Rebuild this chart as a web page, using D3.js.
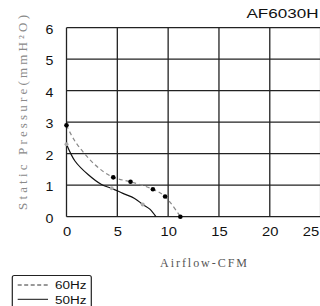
<!DOCTYPE html>
<html><head><meta charset="utf-8">
<script src="https://cdn.jsdelivr.net/npm/d3@7"></script>
<style>html,body{margin:0;padding:0;background:#fff;overflow:hidden}svg{display:block}</style>
</head><body>
<svg id="c" width="320" height="306"></svg>
<script>
const title = "AF6030H";
const xTicks = [0, 5, 10, 15, 20, 25];
const yTicks = [0, 1, 2, 3, 4, 5, 6];
// 60Hz (dashed) curve
const hz60X = [0, 0.85, 2.8, 4.6, 6.3, 8.5, 9.7, 11.2];
const hz60Y = [2.9, 2.39, 1.65, 1.25, 1.11, 0.87, 0.64, 0];
const hz60Dots = [0, 3, 4, 5, 6, 7];
// 50Hz (solid) curve
const hz50X = [0, 0.85, 2.15, 3.45, 4.45, 5.55, 6.7, 7.5, 8.2, 8.8];
const hz50Y = [2.3, 1.76, 1.33, 1.02, 0.9, 0.74, 0.58, 0.39, 0.24, 0];
const hz50Dots = [0, 4, 7];
const legendLabels = ["60Hz", "50Hz"];

const svg = d3.select("#c");
const x = d3.scaleLinear().domain([0, 25]).range([66.5, 320.6]);
const y = d3.scaleLinear().domain([0, 6]).range([216.7, 27.7]);

// grid
const g = svg.append("g");
g.selectAll("line.v").data(xTicks).join("line")
  .attr("x1", d => x(d)).attr("x2", d => x(d)).attr("y1", y(0)).attr("y2", y(6))
  .attr("stroke", "#222").attr("stroke-width", 1.3);
g.selectAll("line.h").data(yTicks).join("line")
  .attr("x1", x(0)).attr("x2", x(25)).attr("y1", d => y(d)).attr("y2", d => y(d))
  .attr("stroke", "#222").attr("stroke-width", 1.3);

// axes labels via d3 axes
const xAxis = svg.append("g").attr("transform", `translate(0,${y(0)})`)
  .call(d3.axisBottom(x).tickValues(xTicks).tickFormat(d3.format("d")).tickSize(0).tickPadding(0));
xAxis.select(".domain").remove();
xAxis.selectAll("text")
  .attr("y", 0).attr("dy", 0)
  .attr("transform", "translate(0,18.8)")
  .attr("font-family", "Liberation Sans, Arial, sans-serif").attr("font-size", 13.5).attr("fill", "#111")
  .attr("textLength", d => String(d).length * 8.2).attr("lengthAdjust", "spacingAndGlyphs")
  .each(function(d){ if (d === 25) d3.select(this).attr("text-anchor", "end").attr("x", -2); });

const yAxis = svg.append("g").attr("transform", `translate(53.5,0)`)
  .call(d3.axisLeft(y).tickValues(yTicks).tickFormat(d3.format("d")).tickSize(0).tickPadding(0));
yAxis.select(".domain").remove();
yAxis.selectAll("text")
  .attr("x", 0).attr("dy", "0.4em")
  .attr("font-family", "Liberation Sans, Arial, sans-serif").attr("font-size", 13.5).attr("fill", "#111")
  .attr("textLength", 7.9).attr("lengthAdjust", "spacingAndGlyphs");

// title
svg.append("text").attr("x", 318.5).attr("y", 18.3).attr("text-anchor", "end")
  .attr("font-family", "Liberation Sans, Arial, sans-serif").attr("font-size", 13).attr("fill", "#111")
  .attr("textLength", 72).attr("lengthAdjust", "spacingAndGlyphs").text(title);

// axis titles
svg.append("text").attr("transform", "translate(27,112.5) rotate(-90)").attr("text-anchor", "middle")
  .attr("font-family", "Liberation Serif, DejaVu Serif, serif").attr("font-size", 13).attr("fill", "#8a8a8a")
  .attr("textLength", 195).attr("lengthAdjust", "spacing").text("Static Pressure(mmH²O)");
svg.append("text").attr("x", 160).attr("y", 267)
  .attr("font-family", "Liberation Serif, DejaVu Serif, serif").attr("font-size", 12).attr("fill", "#555")
  .attr("textLength", 87).attr("lengthAdjust", "spacing").text("Airflow-CFM");

// curves
const line = d3.line().x(d => x(d[0])).y(d => y(d[1])).curve(d3.curveCatmullRom.alpha(0.5));
const p60 = hz60X.map((v, i) => [v, hz60Y[i]]);
const p50 = hz50X.map((v, i) => [v, hz50Y[i]]);
svg.append("path").attr("d", line(p60)).attr("fill", "none").attr("stroke", "#8a8a8a")
  .attr("stroke-width", 1.2).attr("stroke-dasharray", "4,3");
svg.append("path").attr("d", line(p50)).attr("fill", "none").attr("stroke", "#111")
  .attr("stroke-width", 1.2);
svg.selectAll("circle.d60").data(hz60Dots.map(i => p60[i])).join("circle")
  .attr("cx", d => x(d[0])).attr("cy", d => y(d[1])).attr("r", 2.3).attr("fill", "#000");
svg.selectAll("circle.d50").data(hz50Dots.map(i => p50[i])).join("circle")
  .attr("cx", d => x(d[0])).attr("cy", d => y(d[1])).attr("r", 2).attr("fill", "#aaa");

// legend
const lg = svg.append("g");
lg.append("rect").attr("x", 12.3).attr("y", 275.5).attr("width", 79).attr("height", 40).attr("rx", 2)
  .attr("fill", "none").attr("stroke", "#222").attr("stroke-width", 1.2);
const ly = [285, 299.3];
lg.append("line").attr("x1", 17.7).attr("x2", 48).attr("y1", ly[0]).attr("y2", ly[0])
  .attr("stroke", "#333").attr("stroke-width", 1).attr("stroke-dasharray", "4,2.5");
lg.append("line").attr("x1", 17.7).attr("x2", 48).attr("y1", ly[1]).attr("y2", ly[1])
  .attr("stroke", "#111").attr("stroke-width", 1);
lg.selectAll("text").data(legendLabels).join("text")
  .attr("x", 55).attr("y", (d, i) => ly[i] + 4.2)
  .attr("font-family", "Liberation Sans, Arial, sans-serif").attr("font-size", 10).attr("fill", "#111")
  .attr("textLength", 31.5).attr("lengthAdjust", "spacingAndGlyphs").text(d => d);
</script>
</body></html>
